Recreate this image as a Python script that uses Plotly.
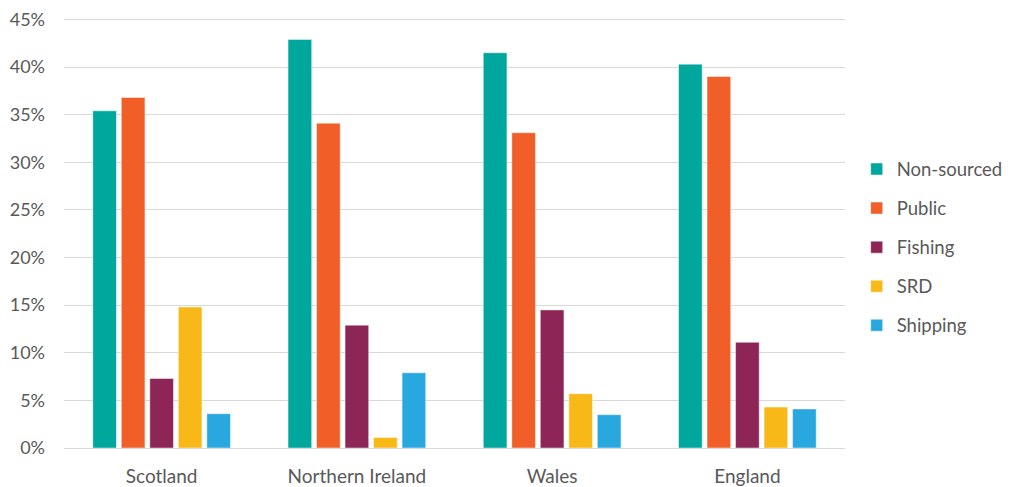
import plotly.graph_objects as go

regions = ["Scotland", "Northern Ireland", "Wales", "England"]
series_names = ["Non-sourced", "Public", "Fishing", "SRD", "Shipping"]
non_sourced = [0.354, 0.429, 0.415, 0.403]
public = [0.368, 0.341, 0.331, 0.390]
fishing = [0.073, 0.129, 0.145, 0.111]
srd = [0.148, 0.011, 0.057, 0.043]
shipping = [0.036, 0.079, 0.035, 0.041]
y_ticks = [0, 0.05, 0.1, 0.15, 0.2, 0.25, 0.3, 0.35, 0.4, 0.45]
colors = ["#00A79D", "#F15E27", "#8E2557", "#F8B817", "#29A8E0"]

series_values = [non_sourced, public, fishing, srd, shipping]

fig = go.Figure()
for i, (name, vals) in enumerate(zip(series_names, series_values)):
    fig.add_trace(go.Bar(
        x=regions, y=vals, name=name, legendgroup=name,
        marker=dict(color=colors[i], line=dict(color="rgba(255,255,255,0.6)", width=0.8)),
    ))

font_color = "#595959"
# the page body adds an 8px margin, so the figure is sized to the visible area
fig.update_layout(
    width=1002, height=479,
    margin=dict(l=56, r=165, t=9, b=39, autoexpand=False),
    paper_bgcolor="white", plot_bgcolor="white",
    font=dict(family="Lato, Open Sans, sans-serif", size=19, color=font_color),
    barmode="group", bargap=0.27, bargroupgap=0.17,
    legend=dict(xref="container", yref="container", x=0.847, xanchor="left",
                y=0.5, yanchor="middle",
                tracegroupgap=12, font=dict(size=18.5, color=font_color),
                bgcolor="rgba(0,0,0,0)"),
    showlegend=True,
)
fig.update_yaxes(range=[0, 0.4525], tickvals=y_ticks, tickformat=".0%",
                 showgrid=True, gridcolor="#D9D9D9", gridwidth=1,
                 zeroline=False, showline=False, ticks="", ticklabelstandoff=18,
                 ticklabeloverflow="allow",
                 tickfont=dict(size=18), automargin=False)
fig.update_xaxes(showline=True, linecolor="#D9D9D9", linewidth=1,
                 showgrid=False, ticks="", ticklabelstandoff=11, automargin=False)

fig.write_html("out.html")
